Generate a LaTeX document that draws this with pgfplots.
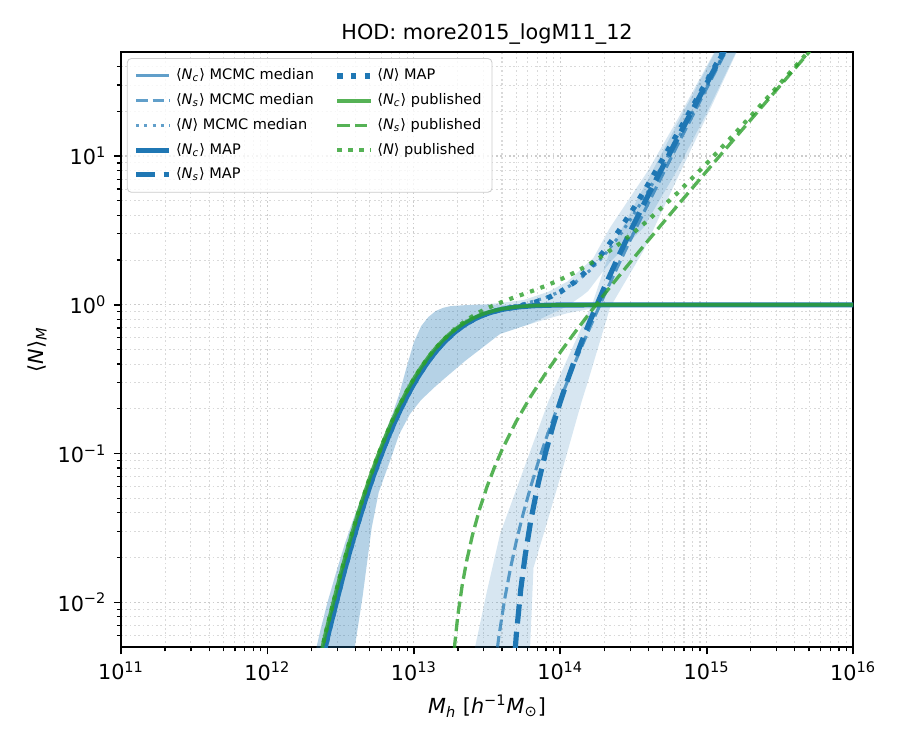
\documentclass[border=0pt]{standalone}
\usepackage{fontspec}
\setmainfont{DejaVu Sans}
\usepackage{pgfplots}
\pgfplotsset{compat=1.18}
\definecolor{tabblue}{HTML}{1F77B4}
\definecolor{tabgreen}{HTML}{2CA02C}
\definecolor{legedge}{HTML}{CCCCCC}
\pgfplotsset{
  med/.style={color=tabblue, draw opacity=0.7, line width=1.5pt},
  map/.style={color=tabblue, line width=2.5pt},
  pub/.style={color=tabgreen, draw opacity=0.8, line width=1.8pt},
  medd/.style={med, dash pattern=on 5.55pt off 2.4pt},
  medo/.style={med, dash pattern=on 1.5pt off 2.475pt},
  mapd/.style={map, dash pattern=on 9.25pt off 4pt},
  mapo/.style={map, dash pattern=on 2.5pt off 4.125pt},
  pubd/.style={color=tabgreen, draw opacity=0.8, line width=1.6pt, dash pattern=on 5.9pt off 2.6pt},
  pubo/.style={color=tabgreen, draw opacity=0.8, line width=2pt, dash pattern=on 2pt off 3.3pt},
  band/.style={fill=tabblue, fill opacity=0.18, draw=none, forget plot},
}
\newcommand{\Nc}{⟨\textit{N}\textsubscript{\textit{c}}⟩}
\newcommand{\Ns}{⟨\textit{N}\textsubscript{\textit{s}}⟩}
\newcommand{\Nt}{⟨\textit{N}⟩}
\begin{document}
\begin{tikzpicture}
\useasboundingbox (-58.3pt,-49.6pt) rectangle (375.3pt,311.8pt);
\begin{axis}[
  at={(0pt,0pt)}, anchor=south west,
  width=352.7pt, height=286.7pt, scale only axis,
  xmode=log, ymode=log,
  xmin=1e11, xmax=1e16, ymin=0.005, ymax=50,
  xtick={1e11,1e12,1e13,1e14,1e15,1e16},
  xticklabels={10\textsuperscript{11},10\textsuperscript{12},10\textsuperscript{13},10\textsuperscript{14},10\textsuperscript{15},10\textsuperscript{16}},
  ytick={0.01,0.1,1,10},
  yticklabels={10\textsuperscript{−2},10\textsuperscript{−1},10\textsuperscript{0},10\textsuperscript{1}},
  minor xtick={2e11,3e11,4e11,5e11,6e11,7e11,8e11,9e11,2e12,3e12,4e12,5e12,6e12,7e12,8e12,9e12,2e13,3e13,4e13,5e13,6e13,7e13,8e13,9e13,2e14,3e14,4e14,5e14,6e14,7e14,8e14,9e14,2e15,3e15,4e15,5e15,6e15,7e15,8e15,9e15},
  minor ytick={0.006,0.007,0.008,0.009,0.02,0.03,0.04,0.05,0.06,0.07,0.08,0.09,0.2,0.3,0.4,0.5,0.6,0.7,0.8,0.9,2,3,4,5,6,7,8,9,20,30,40},
  xtick pos=lower, ytick pos=left,
  tick align=outside,
  major tick length=3.5pt, minor tick length=2pt,
  tick style={black},
  major tick style={line width=0.8pt},
  minor tick style={line width=0.6pt},
  axis line style={line width=0.8pt},
  grid=both,
  major grid style={gray!40, line width=0.6pt, dash pattern=on 0.8pt off 1.3pt},
  minor grid style={gray!30, line width=0.5pt, dash pattern=on 0.8pt off 1.3pt},
  ticklabel style={font=\fontsize{10}{12}\selectfont},
  xlabel={\textit{M}\textsubscript{\textit{h}} [\textit{h}\textsuperscript{−1}\textit{M}\textsubscript{⊙}]},
  xlabel style={at={(axis description cs:0.5,0)}, anchor=base, yshift=-31.8pt, font=\fontsize{10}{12}\selectfont},
  after end axis/.code={
    \node[anchor=base, font=\fontsize{10}{12}\selectfont] at ([yshift=6pt]rel axis cs:0.5,1) {HOD: more2015\_logM11\_12};
    \node[anchor=center, rotate=90, font=\fontsize{10}{12}\selectfont] at ([xshift=-40.5pt]rel axis cs:0,0.5) {\Nt\textsubscript{\textit{M}}};
  },
  legend columns=2,
  legend cell align=left,
  legend image code/.code={\draw[#1] (0pt,0pt) -- (16pt,0pt);},
  legend style={at={(rel axis cs:0.008,0.99)}, anchor=north west,
    draw=legedge, rounded corners=2pt, fill=white, fill opacity=0.8, text opacity=1,
    font=\fontsize{7}{8.5}\selectfont, row sep=1.1pt, inner sep=3pt,
    /tikz/every even column/.append style={column sep=8pt}},
]
% ---------------- bands ----------------
% Nc band
\addplot[band] coordinates {
(1.9e12,0.002) (2.042e12,0.0039) (2.291e12,0.0064) (2.570e12,0.0100) (2.951e12,0.016) (3.388e12,0.025) (3.890e12,0.037) (4.467e12,0.053) (5.012e12,0.072) (5.623e12,0.10) (6.310e12,0.135) (7.079e12,0.18) (7.943e12,0.25) (8.913e12,0.38) (1e13,0.56) (1.122e13,0.72) (1.259e13,0.83) (1.413e13,0.91) (1.585e13,0.955) (1.778e13,0.98) (2.239e13,0.995) (3.162e13,1.0) (1e16,1.006)
(1e16,0.994) (3.981e14,0.99) (1.995e14,0.97) (1.517e14,0.93) (1.122e14,0.88) (7.943e13,0.80) (5.623e13,0.72) (3.882e13,0.638) (2.818e13,0.50) (2.239e13,0.42) (1.679e13,0.33) (1.413e13,0.285) (1.122e13,0.23) (9.419e12,0.185) (7.943e12,0.135) (6.871e12,0.0893) (5.754e12,0.055) (5.152e12,0.0318) (4.467e12,0.011) (3.963e12,0.0051) (3.548e12,0.003)
} -- cycle;
% N band
\addplot[band] coordinates {
(1.9e12,0.002) (2.042e12,0.0039) (2.291e12,0.0064) (2.570e12,0.0100) (2.951e12,0.016) (3.388e12,0.025) (3.890e12,0.037) (4.467e12,0.053) (5.012e12,0.072) (5.623e12,0.10) (6.310e12,0.135) (7.079e12,0.18) (7.943e12,0.25) (8.913e12,0.38) (1e13,0.56) (1.122e13,0.72) (1.259e13,0.83) (1.413e13,0.91) (1.585e13,0.955) (1.778e13,0.98) (2.239e13,0.995) (2.630e13,1.005) (3.162e13,1.012) (3.882e13,1.029) (5.623e13,1.079) (8.318e13,1.226) (1.122e14,1.436) (1.683e14,2.064) (2.188e14,3.31) (3.981e14,8.0) (6.310e14,17.6) (1.140e15,51) (1.585e15,92)
(1.995e15,81) (1.603e15,51) (1e15,19.5) (6.310e14,8.1) (3.698e14,3.3) (2.188e14,1.935) (1.549e14,1.238) (1.403e14,1.146) (1.122e14,0.984) (1e14,0.929) (7.943e13,0.835) (6.310e13,0.75) (5.623e13,0.72) (3.882e13,0.638) (2.818e13,0.50) (2.239e13,0.42) (1.679e13,0.33) (1.413e13,0.285) (1.122e13,0.23) (9.419e12,0.185) (7.943e12,0.135) (6.871e12,0.0893) (5.754e12,0.055) (5.152e12,0.0318) (4.467e12,0.011) (3.963e12,0.0051) (3.548e12,0.003)
} -- cycle;
% Ns band
\addplot[band] coordinates {
(2.399e13,0.003) (2.618e13,0.005) (3.162e13,0.012) (3.882e13,0.0288) (5.623e13,0.0785) (8.318e13,0.226) (1.122e14,0.436) (1.683e14,1.064) (2.188e14,2.31) (3.981e14,7.0) (6.310e14,16.6) (1.140e15,50) (1.585e15,92)
(1.995e15,80) (1.603e15,50) (1e15,18.5) (6.310e14,7.1) (3.698e14,2.31) (2.188e14,0.96) (1.549e14,0.308) (1.403e14,0.226) (9.977e13,0.069) (7.943e13,0.032) (6.561e13,0.0171) (6.223e13,0.005) (6.026e13,0.003)
} -- cycle;
% ---------------- MCMC median ----------------
\addplot[med, forget plot] coordinates {
(2.041e12,0.00234) (2.291e12,0.0039) (2.570e12,0.0064) (2.884e12,0.0100) (3.236e12,0.0156) (3.631e12,0.0235) (4.074e12,0.0345) (4.571e12,0.0496) (5.129e12,0.0694) (5.754e12,0.0945) (6.457e12,0.1261) (7.244e12,0.1646) (8.128e12,0.2095) (9.120e12,0.2614) (1.023e13,0.3189) (1.148e13,0.3810) (1.288e13,0.4465) (1.446e13,0.5135) (1.622e13,0.5801) (1.820e13,0.6445) (2.042e13,0.7050) (2.291e13,0.7603) (2.570e13,0.8094) (2.884e13,0.8520) (3.236e13,0.8873) (3.631e13,0.9159) (4.074e13,0.9394) (5.129e13,0.9705) (6.457e13,0.9872) (8.128e13,0.9948) (1.023e14,0.9980) (1.622e14,0.9998) (3.236e14,1.0) (1e16,1.0)
};
\addplot[medd, forget plot] coordinates {
(3.162e13,0.00084) (3.548e13,0.00336) (3.802e13,0.00585) (4.169e13,0.0105) (4.571e13,0.0170) (5.012e13,0.0258) (5.623e13,0.0406) (6.310e13,0.0609) (7.079e13,0.0880) (7.943e13,0.1239) (1.000e14,0.2312) (1.259e14,0.4088) (1.585e14,0.6966) (1.995e14,1.155) (2.512e14,1.881) (3.162e14,3.02) (3.981e14,4.80) (6.310e14,11.84) (1.000e15,28.64) (1.585e15,68.5)
};
\addplot[medo, forget plot] coordinates {
(2.041e12,0.00234) (2.291e12,0.0039) (2.570e12,0.0064) (2.884e12,0.0100) (3.236e12,0.0156) (3.631e12,0.0235) (4.074e12,0.0345) (4.571e12,0.0496) (5.129e12,0.0694) (5.754e12,0.0945) (6.457e12,0.1261) (7.244e12,0.1646) (8.128e12,0.2095) (9.120e12,0.2614) (1.023e13,0.3189) (1.148e13,0.3810) (1.288e13,0.4465) (1.446e13,0.5135) (1.622e13,0.5801) (1.820e13,0.6445) (2.042e13,0.7050) (2.291e13,0.7603) (2.570e13,0.8094) (2.884e13,0.8520) (3.162e13,0.875) (3.981e13,0.937) (5.012e13,0.992) (6.310e13,1.046) (7.943e13,1.118) (1.000e14,1.229) (1.259e14,1.408) (1.585e14,1.697) (1.995e14,2.155) (2.512e14,2.881) (3.162e14,4.02) (3.981e14,5.80) (6.310e14,12.84) (1.000e15,29.64) (1.585e15,69.5)
};
% ---------------- MAP ----------------
\addplot[map, forget plot] coordinates {
(2.089e12,0.00234) (2.344e12,0.0039) (2.630e12,0.0064) (2.951e12,0.0100) (3.311e12,0.0156) (3.715e12,0.0235) (4.169e12,0.0345) (4.677e12,0.0496) (5.248e12,0.0694) (5.888e12,0.0945) (6.607e12,0.1261) (7.413e12,0.1646) (8.318e12,0.2095) (9.333e12,0.2614) (1.047e13,0.3189) (1.175e13,0.3810) (1.318e13,0.4465) (1.479e13,0.5135) (1.660e13,0.5801) (1.862e13,0.6445) (2.089e13,0.7050) (2.344e13,0.7603) (2.630e13,0.8094) (2.951e13,0.8520) (3.311e13,0.8873) (3.715e13,0.9159) (4.169e13,0.9394) (5.248e13,0.9705) (6.607e13,0.9872) (8.318e13,0.9948) (1.047e14,0.9980) (1.660e14,0.9998) (3.311e14,1.0) (1e16,1.0)
};
\addplot[mapd, forget plot] coordinates {
(4.571e13,0.00132) (4.786e13,0.00335) (5.012e13,0.0061) (5.370e13,0.0122) (5.754e13,0.0206) (6.310e13,0.0362) (7.079e13,0.0635) (7.943e13,0.1021) (8.913e13,0.154) (1.000e14,0.2232) (1.122e14,0.3133) (1.259e14,0.4290) (1.413e14,0.578) (1.585e14,0.7656) (1.995e14,1.302) (2.512e14,2.143) (3.162e14,3.445) (3.981e14,5.450) (6.310e14,13.16) (1.000e15,30.84) (1.585e15,71.0)
};
\addplot[mapo, forget plot] coordinates {
(2.089e12,0.00234) (2.344e12,0.0039) (2.630e12,0.0064) (2.951e12,0.0100) (3.311e12,0.0156) (3.715e12,0.0235) (4.169e12,0.0345) (4.677e12,0.0496) (5.248e12,0.0694) (5.888e12,0.0945) (6.607e12,0.1261) (7.413e12,0.1646) (8.318e12,0.2095) (9.333e12,0.2614) (1.047e13,0.3189) (1.175e13,0.3810) (1.318e13,0.4465) (1.479e13,0.5135) (1.660e13,0.5801) (1.862e13,0.6445) (2.089e13,0.7050) (2.344e13,0.7603) (2.630e13,0.8094) (2.951e13,0.8520) (3.311e13,0.8873) (3.715e13,0.9159) (4.169e13,0.9394) (5.248e13,0.9807) (6.310e13,1.021) (7.943e13,1.096) (1.000e14,1.221) (1.259e14,1.428) (1.585e14,1.766) (1.995e14,2.302) (2.512e14,3.143) (3.162e14,4.445) (3.981e14,6.45) (6.310e14,14.16) (1.000e15,31.84) (1.585e15,72.0)
};
% ---------------- published ----------------
\addplot[pub, forget plot] coordinates {
(1.995e12,0.00234) (2.239e12,0.0039) (2.512e12,0.0064) (2.818e12,0.0100) (3.162e12,0.0156) (3.548e12,0.0235) (3.981e12,0.0345) (4.467e12,0.0496) (5.012e12,0.0694) (5.623e12,0.0945) (6.310e12,0.1261) (7.079e12,0.1646) (7.943e12,0.2095) (8.913e12,0.2614) (1.000e13,0.3189) (1.122e13,0.3810) (1.259e13,0.4465) (1.413e13,0.5135) (1.585e13,0.5801) (1.778e13,0.6445) (1.995e13,0.7050) (2.239e13,0.7603) (2.512e13,0.8094) (2.818e13,0.8520) (3.162e13,0.8873) (3.548e13,0.9159) (3.981e13,0.9394) (5.012e13,0.9705) (6.310e13,0.9872) (7.943e13,0.9948) (1.000e14,0.9980) (1.585e14,0.9998) (3.162e14,1.0) (1e16,1.0)
};
\addplot[pubd, forget plot] coordinates {
(1.738e13,0.00095) (1.820e13,0.0029) (1.905e13,0.0053) (1.995e13,0.0081) (2.138e13,0.0130) (2.291e13,0.0189) (2.512e13,0.0283) (2.818e13,0.0427) (3.162e13,0.0601) (3.548e13,0.0806) (3.981e13,0.105) (5.012e13,0.1653) (6.310e13,0.2442) (7.943e13,0.3466) (1.000e14,0.4801) (1.259e14,0.6542) (1.585e14,0.880) (1.995e14,1.175) (2.512e14,1.558) (3.162e14,2.057) (3.981e14,2.706) (6.310e14,4.645) (1.000e15,7.922) (1.585e15,13.45) (2.512e15,22.78) (3.981e15,38.51) (6.310e15,65.06)
};
\addplot[pubo, forget plot] coordinates {
(1.995e12,0.00234) (2.239e12,0.0039) (2.512e12,0.0064) (2.818e12,0.0100) (3.162e12,0.0156) (3.548e12,0.0235) (3.981e12,0.0345) (4.467e12,0.0496) (5.012e12,0.0694) (5.623e12,0.0945) (6.310e12,0.1261) (7.079e12,0.1646) (7.943e12,0.2095) (8.913e12,0.2614) (1.000e13,0.3189) (1.122e13,0.3810) (1.259e13,0.4465) (1.413e13,0.5135) (1.585e13,0.5801) (1.778e13,0.6464) (1.995e13,0.7131) (2.239e13,0.777) (2.512e13,0.8377) (2.818e13,0.8947) (3.162e13,0.9474) (3.548e13,0.9965) (3.981e13,1.044) (5.012e13,1.136) (6.310e13,1.231) (7.943e13,1.341) (1.000e14,1.478) (1.259e14,1.654) (1.585e14,1.880) (1.995e14,2.175) (2.512e14,2.558) (3.162e14,3.057) (3.981e14,3.706) (6.310e14,5.645) (1.000e15,8.922) (1.585e15,14.45) (2.512e15,23.78) (3.981e15,39.51) (6.310e15,66.06)
};
% ---------------- legend (row-wise order to mimic column-wise fill) ----------------
\addlegendimage{med}\addlegendentry{\Nc\ MCMC median}
\addlegendimage{mapo}\addlegendentry{\Nt\ MAP}
\addlegendimage{medd}\addlegendentry{\Ns\ MCMC median}
\addlegendimage{pub}\addlegendentry{\Nc\ published}
\addlegendimage{medo}\addlegendentry{\Nt\ MCMC median}
\addlegendimage{pubd}\addlegendentry{\Ns\ published}
\addlegendimage{map}\addlegendentry{\Nc\ MAP}
\addlegendimage{pubo}\addlegendentry{\Nt\ published}
\addlegendimage{mapd}\addlegendentry{\Ns\ MAP}
\addlegendimage{empty legend}\addlegendentry{}
\end{axis}
\end{tikzpicture}
\end{document}
